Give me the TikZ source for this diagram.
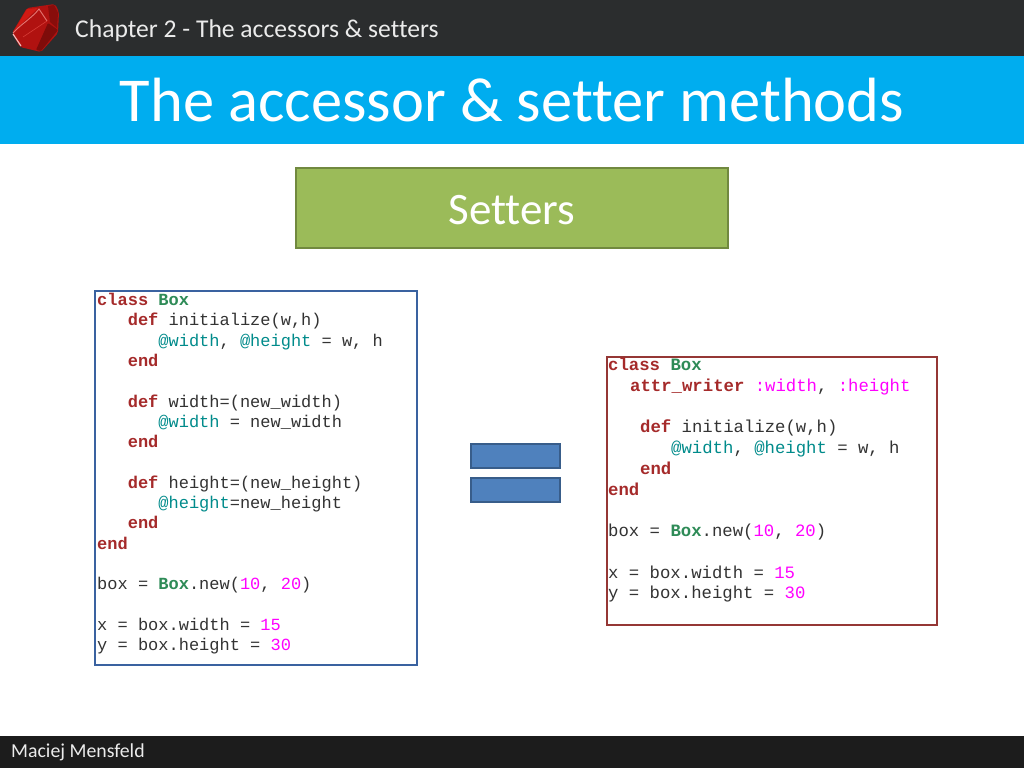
\documentclass[tikz,border=0pt]{standalone}
\usepackage{fontspec}
\setmainfont{Carlito}[RawFeature={-liga}]
\setmonofont{Liberation Mono}
\definecolor{headerbar}{HTML}{2B2D2E}
\definecolor{titlebar}{HTML}{00ADEF}
\definecolor{footerbar}{HTML}{1C1C1C}
\definecolor{setfill}{HTML}{9BBB59}
\definecolor{setline}{HTML}{71893F}
\definecolor{leftline}{HTML}{3A62A0}
\definecolor{rightline}{HTML}{953735}
\definecolor{eqfill}{HTML}{4F81BD}
\definecolor{eqline}{HTML}{385D8A}
\definecolor{kwred}{HTML}{A52A2A}
\definecolor{kwgreen}{HTML}{2E8B57}
\definecolor{kwteal}{HTML}{008B8B}
\definecolor{kwpink}{HTML}{FF00FF}
\definecolor{rubylight}{HTML}{D01A14}
\definecolor{rubymid}{HTML}{B01210}
\definecolor{rubydark}{HTML}{7E0C0A}
\newcommand{\kw}[1]{\textcolor{kwred}{\bfseries #1}}
\newcommand{\cn}[1]{\textcolor{kwgreen}{\bfseries #1}}
\newcommand{\iv}[1]{\textcolor{kwteal}{#1}}
\newcommand{\lit}[1]{\textcolor{kwpink}{#1}}
\newcommand{\ind}[1]{\hspace*{#1pt}}

\begin{document}
\begin{tikzpicture}[x=1pt, y=-1pt,
    label text/.style={anchor=west, inner sep=0pt, text=white!92!black},
    code/.style 2 args={anchor=north west, inner sep=0pt, align=left, text=black!80, font=\ttfamily\fontsize{#1}{#2}\selectfont},
    panel/.style={anchor=north west, draw=#1, line width=2pt, fill=white, inner sep=0pt},
    equal bar/.style={anchor=north west, fill=eqfill, draw=eqline, line width=2pt, minimum width=89pt, minimum height=24pt, inner sep=0pt}]

  \useasboundingbox (0,0) rectangle (1024,768);
  \fill[white] (0,0) rectangle (1024,768);

  % bars
  \fill[headerbar] (0,0) rectangle (1024,56);
  \fill[titlebar] (0,56) rectangle (1024,144);
  \fill[footerbar] (0,736) rectangle (1024,768);

  % ruby
  \fill[rubymid, rounded corners=2pt] (27,8) -- (55,4) -- (59,12) -- (58,33) -- (41,52) -- (20,47) -- (12,33) -- cycle;
  \fill[rubylight] (27,9) -- (38,8) -- (14,31) -- cycle;
  \fill[rubydark, rounded corners=1pt] (48,23) -- (58,30) -- (41,51) -- (36,50) -- cycle;
  \fill[rubydark!80!rubymid] (48,6) -- (54,5) -- (58,13) -- (57,28) -- (50,22) -- cycle;
  \draw[white!40!rubylight, line width=.9pt] (13,33) .. controls (20,25) and (32,18) .. (39,9) -- (47,21);
  \draw[white!15!rubylight, line width=.6pt] (47,21) -- (23,37);
  \draw[white!70!rubylight, line width=1.2pt] (13,34) -- (21,46);

  \node[label text, font=\fontsize{25.6}{30}\selectfont] (chapter) at (75,31) {Chapter 2 - The accessors \& setters};
  \node[text=white, font=\fontsize{62.5}{72}\selectfont] (title) at (512,100) {The accessor \& setter methods};
  \node[label text, font=\fontsize{19.8}{24}\selectfont] (author) at (11,752) {Maciej Mensfeld};

  % setters heading
  \node[anchor=north west, fill=setfill, draw=setline, line width=2pt, minimum width=432pt, minimum height=80pt, text=white, font=\fontsize{45}{54}\selectfont] (setters) at (295,167) {\rule{0pt}{33pt}Setters};

  % code boxes
  \node[panel=leftline, minimum width=322pt, minimum height=374pt] (longbox) at (94,290) {};
  \node[panel=rightline, minimum width=330pt, minimum height=268pt] (shortbox) at (606,356) {};

  \node[code={17}{20.3}] (longcode) at (97,293) {\kw{class} \cn{Box}\\
\ind{30.6}\kw{def} initialize(w,h)\\
\ind{61.2}\iv{@width}, \iv{@height} = w, h\\
\ind{30.6}\kw{end}\\
\\
\ind{30.6}\kw{def} width=(new\_width)\\
\ind{61.2}\iv{@width} = new\_width\\
\ind{30.6}\kw{end}\\
\\
\ind{30.6}\kw{def} height=(new\_height)\\
\ind{61.2}\iv{@height}=new\_height\\
\ind{30.6}\kw{end}\\
\kw{end}\\
\\
box = \cn{Box}.new(\lit{10}, \lit{20})\\
\\
x = box.width = \lit{15}\\
y = box.height = \lit{30}};

  \node[code={17.3}{20.75}] (shortcode) at (608,358) {\kw{class} \cn{Box}\\
\ind{22}\kw{attr\_writer} \lit{:width}, \lit{:height}\\
\\
\ind{32}\kw{def} initialize(w,h)\\
\ind{63}\iv{@width}, \iv{@height} = w, h\\
\ind{32}\kw{end}\\
\kw{end}\\
\\
box = \cn{Box}.new(\lit{10}, \lit{20})\\
\\
x = box.width = \lit{15}\\
y = box.height = \lit{30}};

  % equals sign
  \node[equal bar] (eqtop) at (470,443) {};
  \node[equal bar] (eqbottom) at (470,477) {};
\end{tikzpicture}
\end{document}
